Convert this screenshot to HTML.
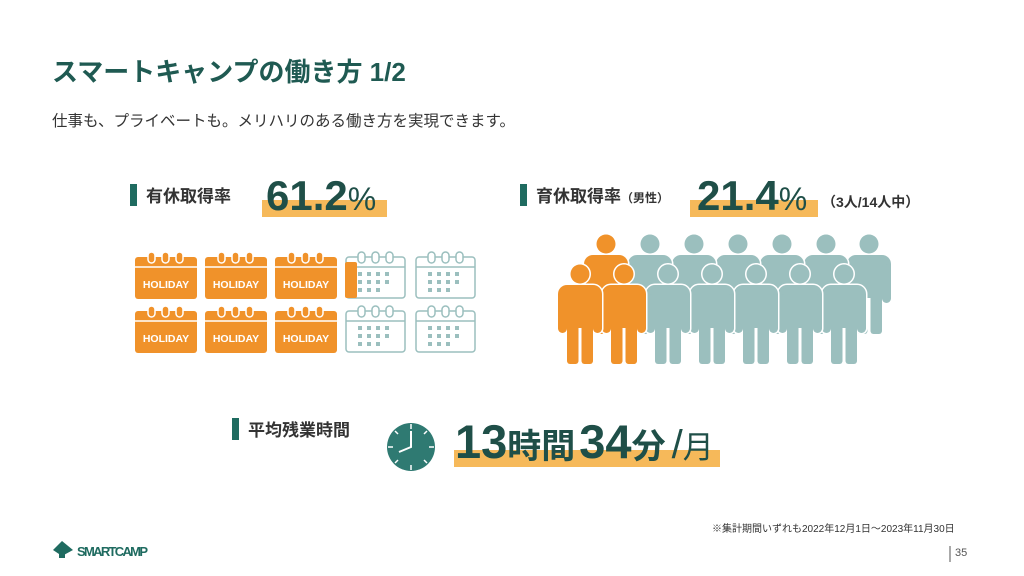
<!DOCTYPE html>
<html><head><meta charset="utf-8"><style>
body{margin:0;width:1024px;height:576px;background:#fff;position:relative;overflow:hidden;font-family:"Liberation Sans","Noto Sans CJK JP",sans-serif;color:#1f4f48}
.a{position:absolute;white-space:nowrap}
.bar{position:absolute;background:#1f6b60;width:7px}
.hl{position:absolute;background:#f6b95a}
</style></head><body>
<div class="a" style="left:52px;top:52px;font-size:26px;font-weight:bold;color:#1f5a52">スマートキャンプの働き方 1/2</div>
<div class="a" style="left:52px;top:109px;font-size:15.5px;color:#333">仕事も、プライベートも。メリハリのある働き方を実現できます。</div>

<div class="bar" style="left:130px;top:184px;height:22px"></div>
<div class="a" style="left:146px;top:182px;font-size:17px;font-weight:bold;color:#333">有休取得率</div>
<div class="hl" style="left:262px;top:200px;width:125px;height:17px"></div>
<div class="a" style="left:266px;top:172px;font-size:42px;font-weight:bold;color:#1f4f48">61.2<span style="font-size:32px;font-weight:normal">%</span></div>

<div class="bar" style="left:520px;top:184px;height:22px"></div>
<div class="a" style="left:536px;top:182px;font-size:17px;font-weight:bold;color:#333">育休取得率<span style="font-size:12px">（男性）</span></div>
<div class="hl" style="left:690px;top:200px;width:128px;height:17px"></div>
<div class="a" style="left:697px;top:172px;font-size:42px;font-weight:bold;color:#1f4f48">21.4<span style="font-size:32px;font-weight:normal">%</span></div>
<div class="a" style="left:822px;top:192px;font-size:14px;font-weight:bold;color:#333">（3人/14人中）</div>

<div class="bar" style="left:232px;top:418px;height:22px"></div>
<div class="a" style="left:248px;top:416px;font-size:17px;font-weight:bold;color:#333">平均残業時間</div>
<div class="hl" style="left:454px;top:450px;width:266px;height:17px"></div>
<div class="a" style="left:455px;top:414px;font-size:47px;font-weight:bold;color:#1f4f48">13<span style="font-size:34px">時間</span><span style="margin-left:4px">34</span><span style="font-size:34px">分</span><span style="font-size:40px;font-weight:normal;margin-left:6px">/</span><span style="font-size:31px;font-weight:normal">月</span></div>

<svg class="a" style="left:0;top:0" width="1024" height="576">
<defs>
<g id="cal">
<rect x="0" y="5" width="62" height="42" rx="3" fill="#f0922a"/>
<line x1="0" y1="15" x2="62" y2="15" stroke="#fff" stroke-width="1.5"/>
<g fill="#f0922a" stroke="#fff" stroke-width="1.5"><rect x="13" y="0" width="7" height="11" rx="3.5"/><rect x="27" y="0" width="7" height="11" rx="3.5"/><rect x="41" y="0" width="7" height="11" rx="3.5"/></g>
<text x="31" y="36" text-anchor="middle" font-size="10.5" font-weight="bold" fill="#fff" font-family="Liberation Sans,sans-serif">HOLIDAY</text>
</g>
<g id="oc">
<rect x="1" y="5" width="59" height="41" rx="3" fill="none" stroke="#9bbfbe" stroke-width="1.5"/>
<line x1="1" y1="15" x2="60" y2="15" stroke="#9bbfbe" stroke-width="1.5"/>
<g fill="#fff" stroke="#9bbfbe" stroke-width="1.5"><rect x="13" y="0" width="7" height="11" rx="3.5"/><rect x="27" y="0" width="7" height="11" rx="3.5"/><rect x="41" y="0" width="7" height="11" rx="3.5"/></g>
<g fill="#9bbfbe"><rect x="13" y="20" width="4" height="4"/><rect x="22" y="20" width="4" height="4"/><rect x="31" y="20" width="4" height="4"/><rect x="40" y="20" width="4" height="4"/><rect x="13" y="28" width="4" height="4"/><rect x="22" y="28" width="4" height="4"/><rect x="31" y="28" width="4" height="4"/><rect x="40" y="28" width="4" height="4"/><rect x="13" y="36" width="4" height="4"/><rect x="22" y="36" width="4" height="4"/><rect x="31" y="36" width="4" height="4"/></g>
</g>
<g id="p">
<circle cx="0" cy="10" r="9.5"/>
<rect x="-22" y="21" width="44" height="24" rx="9"/>
<rect x="-22" y="30" width="9" height="39" rx="4.5"/>
<rect x="13" y="30" width="9" height="39" rx="4.5"/>
<rect x="-13" y="30" width="26" height="34"/>
<rect x="-13" y="55" width="11.5" height="45" rx="3"/>
<rect x="1.5" y="55" width="11.5" height="45" rx="3"/>
</g>
</defs>
<use href="#cal" x="135" y="252"/><use href="#cal" x="205" y="252"/><use href="#cal" x="275" y="252"/>
<use href="#cal" x="135" y="306"/><use href="#cal" x="205" y="306"/><use href="#cal" x="275" y="306"/>
<use href="#oc" x="345" y="252"/><use href="#oc" x="415" y="252"/>
<use href="#oc" x="345" y="306"/><use href="#oc" x="415" y="306"/>
<rect x="345" y="262" width="12" height="36" rx="2" fill="#f0922a"/>

<g>
<use href="#p" x="869" y="234" fill="#9bbfbe"/>
<use href="#p" x="826" y="234" fill="#fff" stroke="#fff" stroke-width="3"/><use href="#p" x="826" y="234" fill="#9bbfbe"/>
<use href="#p" x="782" y="234" fill="#fff" stroke="#fff" stroke-width="3"/><use href="#p" x="782" y="234" fill="#9bbfbe"/>
<use href="#p" x="738" y="234" fill="#fff" stroke="#fff" stroke-width="3"/><use href="#p" x="738" y="234" fill="#9bbfbe"/>
<use href="#p" x="694" y="234" fill="#fff" stroke="#fff" stroke-width="3"/><use href="#p" x="694" y="234" fill="#9bbfbe"/>
<use href="#p" x="650" y="234" fill="#fff" stroke="#fff" stroke-width="3"/><use href="#p" x="650" y="234" fill="#9bbfbe"/>
<use href="#p" x="606" y="234" fill="#fff" stroke="#fff" stroke-width="3"/><use href="#p" x="606" y="234" fill="#f0922a"/>
<use href="#p" x="844" y="264" fill="#fff" stroke="#fff" stroke-width="3"/><use href="#p" x="844" y="264" fill="#9bbfbe"/>
<use href="#p" x="800" y="264" fill="#fff" stroke="#fff" stroke-width="3"/><use href="#p" x="800" y="264" fill="#9bbfbe"/>
<use href="#p" x="756" y="264" fill="#fff" stroke="#fff" stroke-width="3"/><use href="#p" x="756" y="264" fill="#9bbfbe"/>
<use href="#p" x="712" y="264" fill="#fff" stroke="#fff" stroke-width="3"/><use href="#p" x="712" y="264" fill="#9bbfbe"/>
<use href="#p" x="668" y="264" fill="#fff" stroke="#fff" stroke-width="3"/><use href="#p" x="668" y="264" fill="#9bbfbe"/>
<use href="#p" x="624" y="264" fill="#fff" stroke="#fff" stroke-width="3"/><use href="#p" x="624" y="264" fill="#f0922a"/>
<use href="#p" x="580" y="264" fill="#fff" stroke="#fff" stroke-width="3"/><use href="#p" x="580" y="264" fill="#f0922a"/>
</g>

<circle cx="411" cy="447" r="24" fill="#2f7a72"/>
<g stroke="#fff" stroke-width="1.5">
<line x1="411" y1="424" x2="411" y2="429"/><line x1="411" y1="465" x2="411" y2="470"/>
<line x1="388" y1="447" x2="393" y2="447"/><line x1="429" y1="447" x2="434" y2="447"/>
<line x1="395" y1="431" x2="398" y2="434"/><line x1="427" y1="431" x2="424" y2="434"/>
<line x1="395" y1="463" x2="398" y2="460"/><line x1="427" y1="463" x2="424" y2="460"/>
</g>
<polyline points="411,431 411,447 399,452" fill="none" stroke="#fff" stroke-width="2"/>

<path d="M53 550 L62 541 L73 550 L62 556 Z" fill="#1f6b60"/>
<rect x="59" y="554" width="6" height="4" fill="#1f6b60"/>
<text x="77" y="556" font-size="13" font-weight="bold" fill="#1f6b60" font-family="Liberation Sans,sans-serif" textLength="71">SMARTCAMP</text>
<line x1="950" y1="546" x2="950" y2="562" stroke="#555" stroke-width="1"/>
</svg>
<div class="a" style="left:712px;top:520px;font-size:10px;color:#333">※集計期間いずれも2022年12月1日〜2023年11月30日</div>
<div class="a" style="left:955px;top:547px;font-size:11px;color:#555">35</div>
</body></html>
